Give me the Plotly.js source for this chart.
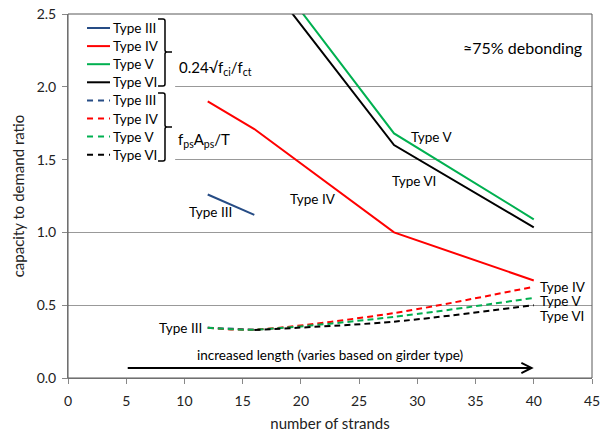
<!DOCTYPE html>
<html>
<head>
<meta charset="utf-8">
<script src="https://cdn.plot.ly/plotly-3.0.1.min.js"></script>
<style>html,body{margin:0;padding:0;background:#fff;}#chart{width:610px;height:436px;}</style>
</head>
<body>
<div id="chart"></div>
<script>
// ---- data ----
const strandsIII = [12, 16];
const strandsAll = [12, 16, 28, 40];
const strandsUpper = [16, 28, 40];
const strandsVIdash = [16, 28, 40];

const tensileIII = [1.26, 1.12];
const tensileIV = [1.90, 1.71, 1.00, 0.67];
const tensileV = [2.94, 1.68, 1.09];
const tensileVI = [2.84, 1.60, 1.035];

const forceIII = [0.345, 0.332];
const forceIV = [0.345, 0.332, 0.446, 0.627];
const forceV = [0.345, 0.332, 0.42, 0.55];
const forceVI = [0.33, 0.387, 0.50];

const typeNames = ['Type III', 'Type IV', 'Type V', 'Type VI'];
const xTicks = [0, 5, 10, 15, 20, 25, 30, 35, 40, 45];
const yTicks = [0.0, 0.5, 1.0, 1.5, 2.0, 2.5];
const arrowRange = [5, 40];
const arrowLevel = 0.069;

// ---- styles ----
const colorList = ['#264C85', '#FF0000', '#00B050', '#000000'];
const FONT = 'Lato, "Open Sans", sans-serif';
const dash = '6px,4px';

function tr(x, y, name, color, isDash, spline) {
  return {
    x: x, y: y, name: name, type: 'scatter', mode: 'lines',
    line: {color: color, width: 2, dash: isDash ? dash : 'solid', shape: spline ? 'spline' : 'linear', smoothing: 0.8},
    hoverinfo: 'skip', showlegend: false
  };
}

const traces = [
  tr(strandsIII, tensileIII, typeNames[0], colorList[0], false, false),
  tr(strandsAll, tensileIV, typeNames[1], colorList[1], false, false),
  tr(strandsUpper, tensileV, typeNames[2], colorList[2], false, false),
  tr(strandsUpper, tensileVI, typeNames[3], colorList[3], false, false),
  tr(strandsIII, forceIII, typeNames[0], colorList[0], true, true),
  tr(strandsAll, forceIV, typeNames[1], colorList[1], true, true),
  tr(strandsAll, forceV, typeNames[2], colorList[2], true, true),
  tr(strandsVIdash, forceVI, typeNames[3], colorList[3], true, true)
];

// pixel -> paper helpers (plot area 68..592 x 14..378)
const L = 68, R = 592, T = 14, B = 378;
const px = v => +((v - L) / (R - L)).toFixed(4);
const py = v => +((B - v) / (B - T)).toFixed(4);

function brace(x0, xv, xt, top, mid, bot) {
  const r = 2;
  return 'M' + px(x0) + ',' + py(top) +
    ' L' + px(xv - r) + ',' + py(top) +
    ' Q' + px(xv) + ',' + py(top) + ' ' + px(xv) + ',' + py(top + r) +
    ' L' + px(xv) + ',' + py(mid - r) +
    ' Q' + px(xv) + ',' + py(mid) + ' ' + px(xv + r) + ',' + py(mid) +
    ' L' + px(xt) + ',' + py(mid) +
    ' M' + px(xv + r) + ',' + py(mid) +
    ' Q' + px(xv) + ',' + py(mid) + ' ' + px(xv) + ',' + py(mid + r) +
    ' L' + px(xv) + ',' + py(bot - r) +
    ' Q' + px(xv) + ',' + py(bot) + ' ' + px(xv - r) + ',' + py(bot) +
    ' L' + px(x0) + ',' + py(bot);
}

const shapes = [
  {type: 'rect', xref: 'x', yref: 'y', x0: 0, x1: 9.2, y0: 1.45, y1: 2.5,
   fillcolor: '#ffffff', line: {width: 0}, layer: 'between'},
  {type: 'path', xref: 'paper', yref: 'paper', path: brace(158, 165, 172, 19, 52, 86),
   line: {color: '#000', width: 1.5}},
  {type: 'path', xref: 'paper', yref: 'paper', path: brace(158, 165, 172, 93, 127, 161),
   line: {color: '#000', width: 1.5}},
  {type: 'rect', xref: 'paper', yref: 'paper', x0: 0, x1: 1, y0: 0, y1: 1,
   line: {color: '#595959', width: 1}, fillcolor: 'rgba(0,0,0,0)'}
];

const lab = {font: {family: FONT, size: 13.5, color: '#000'}, showarrow: false, xref: 'x', yref: 'y'};
const annotations = [
  Object.assign({}, lab, {x: 12.2, y: 1.14, text: 'Type III'}),
  Object.assign({}, lab, {x: 21.0, y: 1.23, text: 'Type IV'}),
  Object.assign({}, lab, {x: 31.2, y: 1.655, text: 'Type V'}),
  Object.assign({}, lab, {x: 29.7, y: 1.35, text: 'Type VI'}),
  Object.assign({}, lab, {x: 40.4, y: 0.625, text: 'Type IV', xanchor: 'left'}),
  Object.assign({}, lab, {x: 40.4, y: 0.528, text: 'Type V', xanchor: 'left'}),
  Object.assign({}, lab, {x: 40.4, y: 0.424, text: 'Type VI', xanchor: 'left'}),
  Object.assign({}, lab, {x: 11.7, y: 0.343, text: 'Type III', xanchor: 'right'}),
  Object.assign({}, lab, {x: 22.5, y: 0.158, text: 'increased length (varies based on girder type)'}),
  {x: arrowRange[1], y: arrowLevel, ax: arrowRange[0], ay: arrowLevel, xref: 'x', yref: 'y', axref: 'x', ayref: 'y',
   text: '', showarrow: true, arrowhead: 5, arrowsize: 1, arrowwidth: 2, arrowcolor: '#000'},
  {xref: 'paper', yref: 'paper', x: px(584), y: py(36), xanchor: 'right', text: '≈75% debonding',
   showarrow: false, font: {family: FONT, size: 16, color: '#000'}},
  {xref: 'paper', yref: 'paper', x: px(177), y: py(56), xanchor: 'left',
   text: '0.24√f<sub>ci</sub>/f<sub>ct</sub>', showarrow: false, font: {family: FONT, size: 15, color: '#000'}},
  {xref: 'paper', yref: 'paper', x: px(176), y: py(128), xanchor: 'left',
   text: 'f<sub>ps</sub>A<sub>ps</sub>/T', showarrow: false, font: {family: FONT, size: 15, color: '#000'}}
];

// manual legend (two groups of four)
const legTop = 28, legStep = 18.1;
for (let g = 0; g < 2; g++) {
  for (let i = 0; i < typeNames.length; i++) {
    const yy = legTop + (g * 4 + i) * legStep;
    shapes.push({type: 'line', xref: 'paper', yref: 'paper', x0: px(87), x1: px(110), y0: py(yy), y1: py(yy),
      line: {color: colorList[i], width: 2, dash: g ? '6px,5px' : 'solid'}});
    annotations.push({xref: 'paper', yref: 'paper', x: px(111), y: py(yy), xanchor: 'left', yanchor: 'middle',
      text: typeNames[i], showarrow: false, font: {family: FONT, size: 13.5, color: '#000'}});
  }
}

const layout = {
  width: 610, height: 436,
  margin: {l: L, r: 610 - R, t: T, b: 436 - B, pad: 0},
  paper_bgcolor: '#fff', plot_bgcolor: '#fff',
  font: {family: FONT, size: 13, color: '#222'},
  showlegend: false,
  xaxis: {range: [0, 45], tickvals: xTicks, ticks: 'outside', ticklen: 5, tickcolor: '#888',
          showline: true, linecolor: '#888', linewidth: 1, showgrid: false, zeroline: false,
          ticklabelstandoff: 5,
          tickfont: {family: FONT, size: 14, color: '#222'},
          title: {text: 'number of strands', font: {family: FONT, size: 15, color: '#222'}, standoff: 10}},
  yaxis: {range: [0, 2.5], tickvals: yTicks, tickformat: '.1f', ticks: 'outside', ticklen: 5, tickcolor: '#888',
          showline: true, linecolor: '#888', linewidth: 1, showgrid: true, gridcolor: '#999', gridwidth: 1,
          zeroline: false, ticklabelstandoff: 3, tickfont: {family: FONT, size: 14, color: '#222'},
          title: {text: 'capacity to demand ratio', font: {family: FONT, size: 15, color: '#222'}, standoff: 8}},
  shapes: shapes,
  annotations: annotations
};

Plotly.newPlot('chart', traces, layout, {staticPlot: true, displayModeBar: false});
</script>
</body>
</html>
